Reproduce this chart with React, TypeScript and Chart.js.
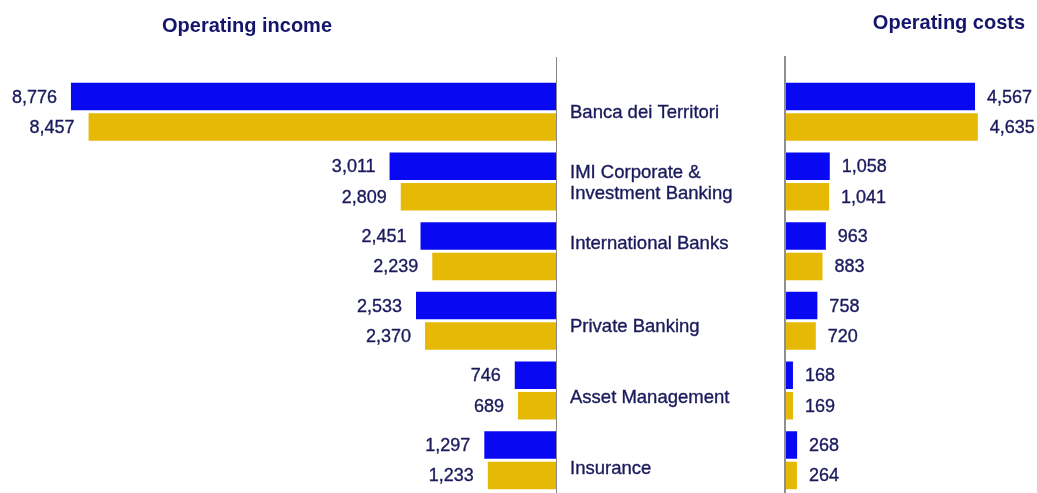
import React, { useEffect, useRef } from "react";
import { Chart, registerables } from "chart.js";
Chart.register(...registerables);

const categories: string[][] = [
  ["Banca dei Territori"],
  ["IMI Corporate &", "Investment Banking"],
  ["International Banks"],
  ["Private Banking"],
  ["Asset Management"],
  ["Insurance"],
];
const incomeCurrent = [8776, 3011, 2451, 2533, 746, 1297];
const incomePrior = [8457, 2809, 2239, 2370, 689, 1233];
const costsCurrent = [4567, 1058, 963, 758, 168, 268];
const costsPrior = [4635, 1041, 883, 720, 169, 264];
const titleLeft = "Operating income";
const titleRight = "Operating costs";

// small vertical nudges of the category captions, as in the source slide
const captionNudge = [0, 1, -8, 5, 6, 8];

const BLUE = "#0808f2";
const GOLD = "#e6b904";
const TEXT = "#1a1a5c";
const TITLE = "#15156c";
const FONT = '"Liberation Sans", Arial, sans-serif';

const fmt = (v: number) => v.toLocaleString("en-US");

function makeDatasets(a: number[], b: number[]) {
  return [
    { data: a, backgroundColor: BLUE, categoryPercentage: 0.876, barPercentage: 0.9 },
    { data: b, backgroundColor: GOLD, categoryPercentage: 0.876, barPercentage: 0.9 },
  ];
}

function heavyText(ctx: CanvasRenderingContext2D, s: string, x: number, y: number) {
  ctx.fillText(s, x, y);
  ctx.strokeText(s, x, y);
}

const leftPlugin = {
  id: "leftDecor",
  afterDraw(chart: any) {
    const { ctx, chartArea } = chart;
    ctx.save();
    ctx.strokeStyle = "#8a8a8a";
    ctx.lineWidth = 1;
    ctx.beginPath();
    ctx.moveTo(Math.round(chartArea.right) + 0.5, chartArea.top - 20);
    ctx.lineTo(Math.round(chartArea.right) + 0.5, chart.height);
    ctx.stroke();
    ctx.fillStyle = TEXT;
    ctx.strokeStyle = TEXT;
    ctx.lineWidth = 0.35;
    ctx.font = `18px ${FONT}`;
    ctx.textBaseline = "middle";
    ctx.textAlign = "right";
    chart.data.datasets.forEach((ds: any, di: number) => {
      const meta = chart.getDatasetMeta(di);
      meta.data.forEach((el: any, i: number) => {
        heavyText(ctx, fmt(ds.data[i]), el.x - 14, el.y + 1);
      });
    });
    ctx.textAlign = "left";
    ctx.font = `18.5px ${FONT}`;
    const yScale = chart.scales.y;
    categories.forEach((lines, i) => {
      const cy = yScale.getPixelForValue(i) + captionNudge[i];
      const lh = 21;
      lines.forEach((ln, j) => {
        const y = cy + (j - (lines.length - 1) / 2) * lh + 1;
        heavyText(ctx, ln, chartArea.right + 14, y);
      });
    });
    ctx.restore();
  },
};

const rightPlugin = {
  id: "rightDecor",
  afterDraw(chart: any) {
    const { ctx, chartArea } = chart;
    ctx.save();
    ctx.strokeStyle = "#6a6a6a";
    ctx.lineWidth = 1.5;
    ctx.beginPath();
    ctx.moveTo(Math.round(chartArea.left) - 1, chartArea.top - 21);
    ctx.lineTo(Math.round(chartArea.left) - 1, chart.height);
    ctx.stroke();
    ctx.fillStyle = TEXT;
    ctx.strokeStyle = TEXT;
    ctx.lineWidth = 0.35;
    ctx.font = `18px ${FONT}`;
    ctx.textBaseline = "middle";
    ctx.textAlign = "left";
    chart.data.datasets.forEach((ds: any, di: number) => {
      const meta = chart.getDatasetMeta(di);
      meta.data.forEach((el: any, i: number) => {
        heavyText(ctx, fmt(ds.data[i]), el.x + 12, el.y + 1);
      });
    });
    ctx.restore();
  },
};

function baseOptions(max: number, reverse: boolean, padding: any) {
  return {
    indexAxis: "y" as const,
    responsive: false,
    animation: false as const,
    devicePixelRatio: 1,
    layout: { padding },
    plugins: { legend: { display: false }, tooltip: { enabled: false }, title: { display: false } },
    scales: {
      x: { type: "linear" as const, min: 0, max, reverse, display: false },
      y: { display: false },
    },
  };
}

export default function App() {
  const leftRef = useRef<HTMLCanvasElement>(null);
  const rightRef = useRef<HTMLCanvasElement>(null);

  useEffect(() => {
    const labels = categories.map((c) => c.join(" "));
    const left = new Chart(leftRef.current!, {
      type: "bar",
      data: { labels, datasets: makeDatasets(incomeCurrent, incomePrior) as any },
      options: baseOptions(10000, true, { left: 3.3, right: 229, top: 77, bottom: 1 }) as any,
      plugins: [leftPlugin],
    });
    const right = new Chart(rightRef.current!, {
      type: "bar",
      data: { labels, datasets: makeDatasets(costsCurrent, costsPrior) as any },
      options: baseOptions(6000, false, { left: 6, right: 2.7, top: 77, bottom: 1 }) as any,
      plugins: [rightPlugin],
    });
    return () => {
      left.destroy();
      right.destroy();
    };
  }, []);

  const titleStyle: React.CSSProperties = {
    position: "absolute",
    width: 260,
    textAlign: "center",
    font: `bold 20px ${FONT}`,
    color: TITLE,
    lineHeight: "24px",
    whiteSpace: "nowrap",
  };

  return (
    <div
      style={{
        position: "fixed",
        left: 0,
        top: 0,
        width: 1037,
        height: 493,
        overflow: "hidden",
        background: "#ffffff",
      }}
    >
      <canvas ref={leftRef} width={785} height={496} style={{ position: "absolute", left: 0, top: 0 }} />
      <canvas ref={rightRef} width={257} height={496} style={{ position: "absolute", left: 780, top: 0 }} />
      <div style={{ ...titleStyle, left: 247 - 130, top: 13 }}>{titleLeft}</div>
      <div style={{ ...titleStyle, left: 949 - 130, top: 10 }}>{titleRight}</div>
    </div>
  );
}
